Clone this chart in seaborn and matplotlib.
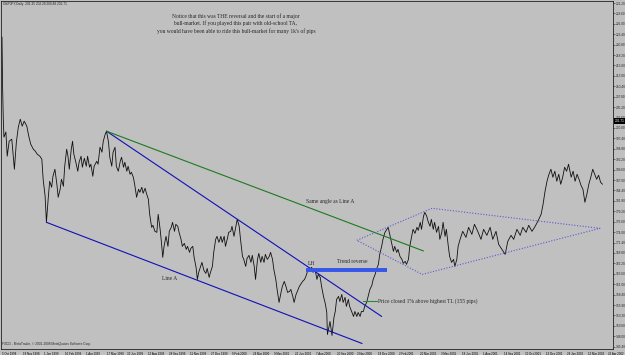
import matplotlib
matplotlib.use("Agg")
import matplotlib.pyplot as plt
import matplotlib.transforms as mtransforms
import pandas as pd
import seaborn as sns

# daily closes (bar 0 = 5 Oct 1998, MT4 bar numbering)
bars = [0, 1, 2, 3, 6, 8, 11, 15, 19, 22, 25, 28, 31, 34, 38, 41, 44, 48, 51, 54,
        58, 61, 63, 66, 68, 71, 73, 76, 78, 81, 84, 86, 89, 91, 94, 96, 99, 101, 103, 106,
        108, 110, 113, 116, 118, 121, 123, 126, 129, 131, 134, 136, 139, 141, 145, 147, 150, 153, 155, 158,
        160, 163, 165, 168, 170, 173, 175, 178, 181, 183, 186, 188, 191, 193, 196, 198, 201, 203, 206, 209,
        211, 214, 216, 219, 221, 224, 226, 229, 231, 234, 237, 239, 242, 244, 246, 248, 251, 254, 256, 259,
        261, 264, 266, 269, 271, 274, 276, 279, 282, 284, 287, 289, 292, 294, 297, 299, 301, 304, 306, 309,
        312, 314, 317, 319, 322, 324, 327, 329, 332, 335, 337, 340, 342, 345, 347, 350, 352, 355, 358, 360,
        363, 365, 368, 370, 373, 375, 378, 381, 383, 386, 388, 391, 393, 396, 398, 401, 403, 406, 409, 411,
        414, 416, 419, 421, 424, 427, 429, 432, 435, 437, 440, 442, 445, 447, 450, 452, 455, 457, 460, 463,
        465, 468, 474, 476, 479, 482, 484, 487, 489, 492, 495, 497, 498, 502, 505, 508, 510, 512, 515, 517,
        520, 522, 525, 527, 530, 532, 535, 538, 540, 543, 545, 548, 550, 553, 555, 558, 561, 563, 566, 568,
        571, 573, 576, 578, 581, 583, 586, 589, 591, 594, 596, 599, 601, 604, 606, 609, 612, 614, 617, 619,
        622, 624, 627, 629, 632, 635, 637, 640, 642, 645, 647, 650, 652, 655, 657, 660, 662, 665, 668, 670,
        673, 675, 678, 680, 683, 685, 688, 691, 693, 696, 698, 701, 705, 710, 714, 719, 723, 728, 733, 737,
        742, 747, 751, 756, 760, 765, 770, 774, 779, 783, 788, 793, 797, 802, 806, 811, 815, 820, 825, 828,
        831, 834, 837, 840, 843, 846, 849, 852, 855, 858, 861, 864, 867, 871, 874, 877, 880, 883, 886, 889,
        892, 895, 898, 901, 904, 907, 910, 913, 916, 919]
closes = [222.7, 209.7, 202.2, 197.7, 199.0, 192.95, 196.7, 197.2, 189.7, 196.45, 200.2, 202.2, 200.45, 201.7, 200.45, 197.95, 195.95, 194.7, 194.2, 193.45,
          192.95, 192.2, 187.2, 182.95, 176.45, 182.95, 186.7, 185.2, 187.95, 189.7, 185.95, 182.7, 184.7, 187.2, 185.45, 190.45, 194.7, 192.95, 189.7, 194.7,
          196.7, 193.45, 191.45, 189.2, 191.45, 192.95, 190.2, 192.45, 190.45, 192.95, 190.2, 190.95, 187.95, 190.45, 191.7, 190.95, 195.2, 193.95, 196.7, 198.45,
          199.2, 196.45, 192.7, 190.45, 193.95, 195.2, 190.45, 189.2, 191.7, 192.7, 190.2, 191.45, 189.2, 190.45, 188.45, 188.95, 187.7, 185.95, 182.7, 184.7,
          183.95, 185.2, 183.7, 184.95, 183.7, 182.2, 178.45, 175.2, 175.7, 174.2, 173.95, 178.45, 174.7, 171.45, 167.7, 170.45, 172.95, 170.45, 174.2, 175.2,
          176.45, 174.2, 175.95, 175.45, 173.95, 172.2, 170.45, 171.2, 169.7, 170.45, 168.95, 169.95, 170.45, 167.7, 165.2, 162.2, 163.95, 165.45, 166.45, 164.45,
          163.7, 164.95, 162.7, 163.95, 165.45, 168.95, 172.2, 172.95, 171.45, 172.95, 171.45, 172.95, 170.45, 172.45, 173.95, 174.2, 175.45, 172.95, 175.45, 177.2,
          175.45, 172.2, 167.95, 167.2, 165.45, 167.45, 168.2, 166.45, 168.2, 165.45, 162.2, 167.2, 168.7, 166.45, 167.95, 166.45, 168.45, 167.2, 167.95, 168.95,
          167.2, 164.7, 162.2, 159.7, 156.45, 158.95, 160.45, 161.7, 160.2, 158.95, 159.2, 159.7, 157.95, 156.45, 158.45, 159.2, 160.45, 160.95, 161.7, 162.2,
          162.95, 164.45, 165.2, 163.95, 164.7, 162.2, 163.45, 162.7, 160.45, 157.95, 155.95, 153.95, 148.45, 151.7, 148.2, 152.7, 154.2, 157.2, 157.95, 156.7,
          158.45, 156.45, 157.7, 155.45, 157.2, 155.45, 154.2, 152.95, 154.2, 152.95, 153.95, 152.95, 154.2, 154.2, 155.45, 156.45, 158.45, 159.7, 160.7, 162.2,
          163.45, 164.7, 165.95, 168.45, 170.45, 172.2, 173.95, 174.7, 175.2, 172.95, 171.45, 169.2, 170.45, 168.95, 169.7, 167.95, 167.2, 166.2, 166.7, 165.95,
          167.2, 170.45, 172.95, 174.7, 173.7, 175.2, 174.45, 176.45, 174.7, 177.95, 178.95, 177.95, 176.7, 175.45, 177.2, 174.7, 176.45, 173.95, 175.45, 172.2,
          173.95, 176.45, 172.95, 174.7, 170.45, 167.95, 166.45, 167.2, 165.45, 167.2, 170.45, 172.2, 174.2, 172.7, 175.2, 173.45, 175.95, 174.2, 172.2, 174.7,
          173.2, 175.2, 172.2, 174.2, 170.95, 169.7, 168.45, 171.7, 173.2, 172.2, 174.7, 173.2, 175.2, 173.95, 175.7, 174.2, 175.2, 176.7, 178.45, 180.95,
          184.2, 186.7, 188.45, 189.7, 187.7, 189.2, 186.7, 188.45, 185.95, 187.7, 190.2, 189.2, 190.95, 187.7, 189.2, 186.7, 188.45, 187.2, 185.7, 184.7,
          181.45, 183.45, 185.95, 187.7, 189.7, 188.45, 187.2, 188.2, 186.45, 185.95]

date_labels = ["5 Oct 1998", "18 Nov 1998", "1 Jan 1999", "16 Feb 1999", "1 Apr 1999", "17 May 1999",
               "30 Jun 1999", "13 Aug 1999", "28 Sep 1999", "11 Nov 1999", "27 Dec 1999", "9 Feb 2000",
               "24 Mar 2000", "9 May 2000", "22 Jun 2000", "7 Aug 2000", "20 Sep 2000", "3 Nov 2000",
               "18 Dec 2000", "2 Feb 2001", "20 Mar 2001", "3 May 2001", "18 Jun 2001", "1 Aug 2001",
               "14 Sep 2001", "30 Oct 2001", "13 Dec 2001", "28 Jan 2002", "13 Mar 2002", "26 Apr 2002"]
date_bars = [32 * i for i in range(len(date_labels))]

price_ticks = [145.40, 148.00, 150.60, 153.20, 155.80, 158.40, 161.00, 163.60, 166.20, 168.80,
               171.40, 174.00, 176.60, 179.20, 181.80, 184.40, 187.00, 189.60, 192.20, 194.80,
               197.40, 200.00, 202.60, 205.20, 207.80, 210.40, 213.00, 215.60, 218.20, 220.80,
               223.40, 226.00, 228.60, 231.20]
last_price = 201.71

# hand-drawn objects on the chart
line_a_bars, line_a_prices = [68, 551], [176.45, 146.2]
upper_tl_bars, upper_tl_prices = [160, 581], [199.2, 152.95]
green_bars, green_prices = [160, 645], [199.2, 169.3]
reverse_bars, reverse_price = [465, 589], 164.5
close_bars, close_price = [552, 574], 156.8
diamond_bars = [543, 658, 915, 643, 543]
diamond_prices = [171.95, 179.95, 174.95, 163.45, 171.95]

sns.set_theme(style="white")
plt.rcParams["font.family"] = ["Liberation Sans", "DejaVu Sans"]
BG = "#c0c0c0"
SERIF = "Liberation Serif"
TINY = 2.3

fig = plt.figure(figsize=(6.25, 3.55), dpi=100, facecolor=BG)
ax = fig.add_axes([1 / 625, 6.5 / 355, 612 / 625, 347.5 / 355])
ax.set_facecolor(BG)

df = pd.DataFrame({"bar": bars, "close": closes})
sns.lineplot(data=df, x="bar", y="close", ax=ax, color="#101010", lw=0.6, estimator=None)

ax.plot(line_a_bars, line_a_prices, color="#1010b8", lw=0.8)
ax.plot(upper_tl_bars, upper_tl_prices, color="#1010b8", lw=0.8)
ax.plot(green_bars, green_prices, color="#1e7a1e", lw=0.8)
ax.plot(reverse_bars, [reverse_price] * 2, color="#3556e8", lw=2.8, solid_capstyle="butt")
ax.plot(close_bars, [close_price] * 2, color="#2a8a2a", lw=0.8)
ax.plot(diamond_bars, diamond_prices, color="#5a5ad0", lw=0.8, ls=(0, (1, 1.5)))

ax.text(474, 165.6, "LH", fontsize=4, family=SERIF, ha="center", va="bottom")
ax.text(536, 166.0, "Trend reverse", fontsize=4, family=SERIF, ha="center", va="bottom")
ax.text(502, 181.7, "Same angle as Line A", fontsize=4, family=SERIF, ha="center", va="center")
ax.text(257, 162.45, "Line A", fontsize=4, family=SERIF, ha="center", va="center")
ax.text(576, 156.8, "Price closed 1% above highest TL (155 pips)", fontsize=4, family=SERIF,
        ha="left", va="center")

note = ["Notice that this was THE reversal and the start of a major",
        "bull-market. If you played this pair with old-school TA,",
        "you would have been able to ride this bull-market for many 1k's of pips"]
for i, line in enumerate(note):
    fig.text(236 / 625, 1 - (16 + 7.6 * i) / 355, line, fontsize=4, family=SERIF,
             ha="center", va="center")

fig.text(3 / 625, 1 - 4.5 / 355, "GBPJPY,Daily  201.35 202.28 200.48 201.71", fontsize=TINY,
         ha="left", va="center")
ax.text(0.002, 0.008, "FXDD - MetaTrader, \u00a9 2001-2008 MetaQuotes Software Corp.", fontsize=TINY,
        ha="left", va="bottom", transform=ax.transAxes)

ax.set_xlim(-1.5, 935)
ax.set_ylim(144.95, 231.7)
ax.set_xlabel("")
ax.set_ylabel("")

ax.set_xticks(date_bars)
ax.set_xticklabels(date_labels, fontsize=2.1, ha="left")
shift = mtransforms.ScaledTranslation(1.0 / 100, 0, fig.dpi_scale_trans)
for lab in ax.get_xticklabels():
    lab.set_transform(lab.get_transform() + shift)
ax.tick_params(axis="x", length=2, width=0.4, pad=0.2, colors="#000000", direction="out")

ax.yaxis.tick_right()
ax.set_yticks(price_ticks)
ax.set_yticklabels([f"{v:.2f}" for v in price_ticks], fontsize=TINY)
ax.tick_params(axis="y", length=1.2, width=0.4, pad=0.6, direction="out")

ax.annotate(f"{last_price:.2f}", xy=(1.0, last_price), xycoords=("axes fraction", "data"),
            xytext=(1.0, 0), textcoords="offset points", fontsize=TINY, color="white",
            ha="left", va="center", annotation_clip=False,
            bbox=dict(boxstyle="square,pad=0.2", fc="black", ec="black", lw=0))

for side in ["left", "right", "top", "bottom"]:
    ax.spines[side].set_color("#202020")
    ax.spines[side].set_linewidth(0.6)

fig.savefig("out.png", dpi=100, facecolor=BG)
